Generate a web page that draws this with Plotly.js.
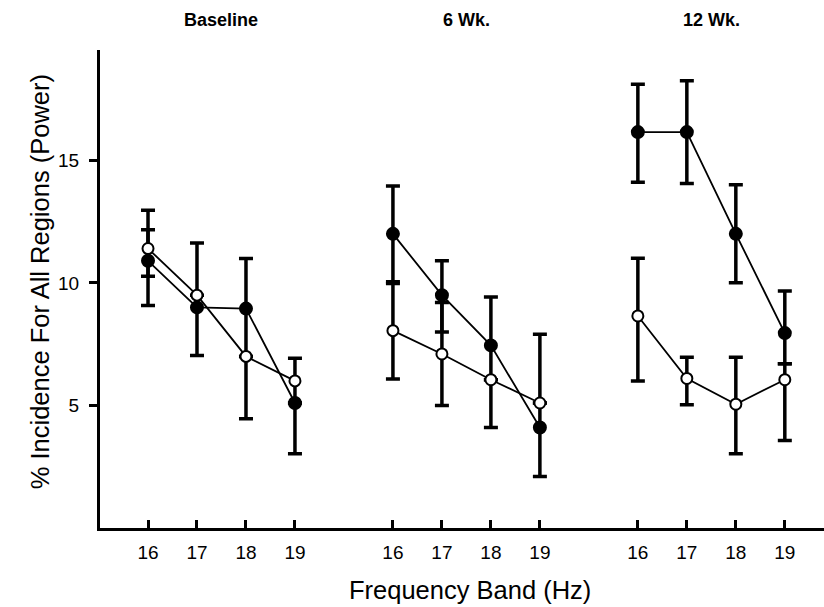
<!DOCTYPE html>
<html>
<head>
<meta charset="utf-8">
<script src="https://cdn.plot.ly/plotly-3.0.1.min.js"></script>
<style>html,body{margin:0;padding:0;background:#fff;}#chart{width:824px;height:607px;}</style>
</head>
<body>
<div id="chart"></div>
<script>
// ---- data ----
const groups = ['Baseline', '6 Wk.', '12 Wk.'];
const bands = ['16', '17', '18', '19'];

// filled circles
const filledMean    = [10.9, 9.0, 8.95, 5.1,   12.0, 9.5, 7.45, 4.1,   16.15, 16.15, 12.0, 7.95];
const filledErrUp   = [2.06, 2.63, 2.04, 0,    1.95, 1.4, 1.97, 1.0,   1.95, 2.1, 2.0, 1.72];
const filledErrDown = [1.82, 1.96, 1.95, 2.07, 2.03, 1.5, 1.4, 2.0,    2.05, 2.1, 2.0, 1.25];

// open circles
const openMean      = [11.4, 9.5, 7.0, 6.0,    8.05, 7.1, 6.05, 5.1,   8.65, 6.1, 5.05, 6.05];
const openErrUp     = [0.77, 0, 0, 0.93,       2.0, 2.1, 0, 2.8,       2.35, 0.87, 1.92, 0.65];
const openErrDown   = [1.13, 0, 2.54, 0.9,     1.97, 2.1, 1.95, 0,     2.65, 1.07, 2.02, 2.48];

// ---- build positions: groups separated by a gap ----
const xs = [], tickText = [];
groups.forEach((g, gi) => bands.forEach((b, bi) => { xs.push(gi * 5 + bi + 1); tickText.push(b); }));

function withGaps(arr) {
  const X = [], Y = [];
  groups.forEach((g, gi) => {
    bands.forEach((b, bi) => { const i = gi * bands.length + bi; X.push(xs[i]); Y.push(arr[i]); });
    X.push(null); Y.push(null);
  });
  return {X, Y};
}

const font = 'Liberation Sans, Arial, Helvetica, sans-serif';
const errStyle = {type: 'data', symmetric: false, color: '#000', thickness: 3.5, width: 7};

const fl = withGaps(filledMean), op = withGaps(openMean);

const traces = [
  { x: xs, y: filledMean, mode: 'markers', marker: {opacity: 0, size: 1}, hoverinfo: 'skip',
    error_y: Object.assign({array: filledErrUp, arrayminus: filledErrDown}, errStyle) },
  { x: xs, y: openMean, mode: 'markers', marker: {opacity: 0, size: 1}, hoverinfo: 'skip',
    error_y: Object.assign({array: openErrUp, arrayminus: openErrDown}, errStyle) },
  { x: fl.X, y: fl.Y, mode: 'lines+markers', connectgaps: false,
    line: {color: '#000', width: 1.8},
    marker: {symbol: 'circle', size: 12, color: '#000', line: {color: '#000', width: 2}} },
  { x: op.X, y: op.Y, mode: 'lines+markers', connectgaps: false,
    line: {color: '#000', width: 1.8},
    marker: {symbol: 'circle', size: 11, color: '#fff', line: {color: '#000', width: 2}} }
];

const annotations = groups.map((g, gi) => ({
  text: '<b>' + g + '</b>', x: gi * 5 + 2.5, xref: 'x', y: 1.063, yref: 'paper',
  showarrow: false, xanchor: 'center', yanchor: 'middle',
  font: {family: font, size: 18, color: '#000'}
}));
annotations.push({
  text: '% Incidence For All Regions (Power)', textangle: -90,
  x: -0.083, xref: 'paper', y: 0.516, yref: 'paper', showarrow: false,
  xanchor: 'center', yanchor: 'middle', font: {family: font, size: 25.5, color: '#000'}
});
annotations.push({
  text: 'Frequency Band (Hz)', x: 7.57, xref: 'x', y: -0.13, yref: 'paper',
  showarrow: false, xanchor: 'center', yanchor: 'middle',
  font: {family: font, size: 25.5, color: '#000'}
});

const layout = {
  width: 824, height: 607,
  margin: {l: 100, r: 0, t: 50, b: 79},
  paper_bgcolor: '#fff', plot_bgcolor: '#fff',
  showlegend: false,
  font: {family: font, color: '#000'},
  xaxis: {
    range: [0.02, 14.8], showgrid: false, zeroline: false,
    showline: true, linecolor: '#000', linewidth: 3,
    ticks: 'inside', ticklen: 8, tickwidth: 3, tickcolor: '#000',
    tickvals: xs, ticktext: tickText, ticklabelstandoff: 5,
    tickfont: {family: font, size: 19, color: '#000'}
  },
  yaxis: {
    range: [0, 19.5], showgrid: false, zeroline: false,
    showline: true, linecolor: '#000', linewidth: 3,
    ticks: 'outside', ticklen: 8, tickwidth: 3, tickcolor: '#000',
    tickvals: [5, 10, 15], ticktext: ['5', '10', '15'], ticklabelstandoff: 6,
    tickfont: {family: font, size: 19, color: '#000'}
  },
  annotations: annotations
};

Plotly.newPlot('chart', traces, layout, {staticPlot: true, displayModeBar: false});
</script>
</body>
</html>
